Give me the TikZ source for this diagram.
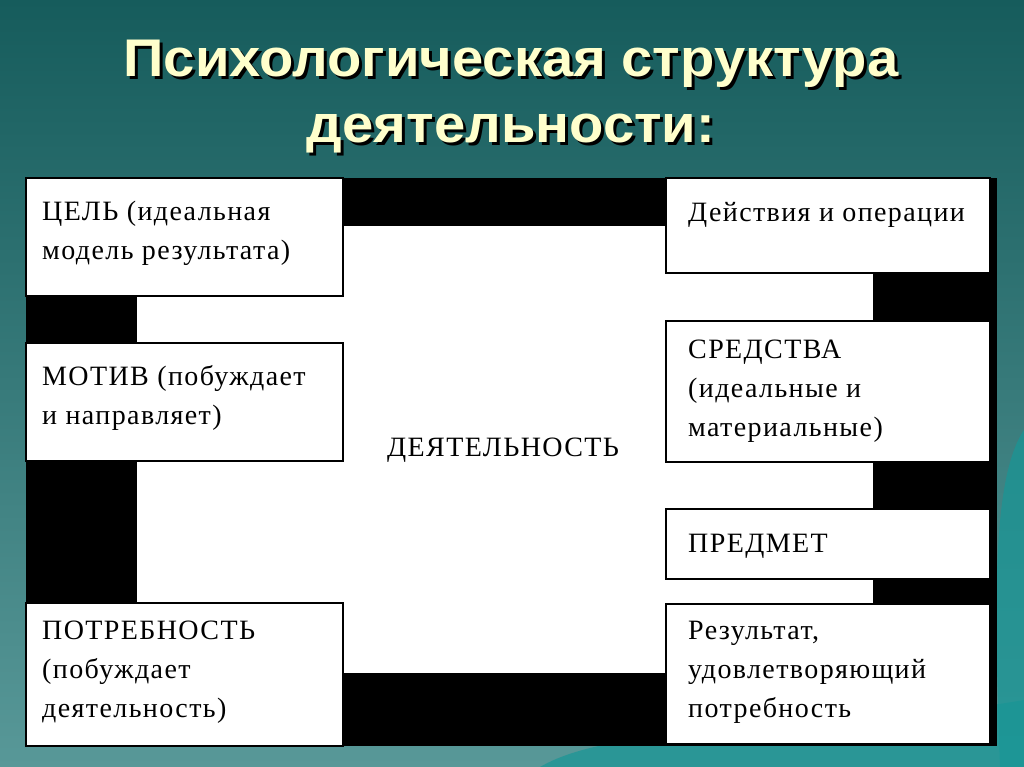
\documentclass[tikz,border=0pt]{standalone}
\usepackage{fontspec}
\setmainfont{Liberation Serif}
\newfontfamily\titlefont{Liberation Sans}[FakeStretch=1.06]
\newfontfamily\boxfont{Liberation Serif}[LetterSpace=5]
\usetikzlibrary{positioning}

\definecolor{bgtop}{RGB}{22,92,92}
\definecolor{bgbot}{RGB}{88,152,152}
\definecolor{wave}{RGB}{24,150,150}
\definecolor{cream}{RGB}{255,255,204}

\tikzset{
    box/.style={draw=black,line width=1.5pt,fill=white},
    lbl/.style={anchor=base west,inner sep=0pt,align=left,
        font=\boxfont\fontsize{28}{39}\selectfont},
    ttl/.style={anchor=base,inner sep=0pt,text=cream,
        font=\titlefont\bfseries\fontsize{53}{60}\selectfont},
    ttlshadow/.style={ttl,text=black}
}

\begin{document}
\begin{tikzpicture}[x=1pt,y=-1pt]
    \useasboundingbox (0,0) rectangle (1024,767);
    \shade[top color=bgtop,bottom color=bgbot] (0,0) rectangle (1024,767);
    \fill[wave,opacity=0.7] (540,767) .. controls (620,720) and (820,735) .. (1024,700) -- (1024,767) -- cycle;
    \fill[wave,opacity=0.7] (1024,430) .. controls (990,480) and (995,620) .. (1000,767) -- (1024,767) -- cycle;

    % title
    \node[ttlshadow] (t1s) at (514,80) {Психологическая структура};
    \node[ttlshadow] (t2s) at (514,146) {деятельности:};
    \node[ttl] (t1) at (511,77) {Психологическая структура};
    \node[ttl] (t2) at (511,143) {деятельности:};

    % black frame and white middle
    \fill[black] (26,178) rectangle (997,746);
    \fill[white] (137,226) rectangle (873,673);

    % left boxes
    \foreach \ya/\yb in {178/296, 343/461, 603/746} {
        \draw[box] (26,\ya) rectangle (343,\yb);
    }
    % right boxes
    \foreach \ya/\yb in {178/273, 321/462, 509/579, 604/744} {
        \draw[box] (666,\ya) rectangle (990,\yb);
    }

    % labels, placed at the baseline of their last line
    \node[lbl] (goal) at (42,259) {ЦЕЛЬ (идеальная\\модель результата)};
    \node[lbl] (motive) at (42,424) {МОТИВ (побуждает\\и направляет)};
    \node[lbl] (need) at (42,717) {ПОТРЕБНОСТЬ\\(побуждает\\деятельность)};
    \node[lbl] (actions) at (688,222) {Действия и операции};
    \node[lbl] (means) at (688,436) {СРЕДСТВА\\(идеальные и\\материальные)};
    \node[lbl] (object) at (688,552) {ПРЕДМЕТ};
    \node[lbl] (result) at (688,717) {Результат,\\удовлетворяющий\\потребность};
    \node[lbl] (activity) at (387,456) {ДЕЯТЕЛЬНОСТЬ};
\end{tikzpicture}
\end{document}
